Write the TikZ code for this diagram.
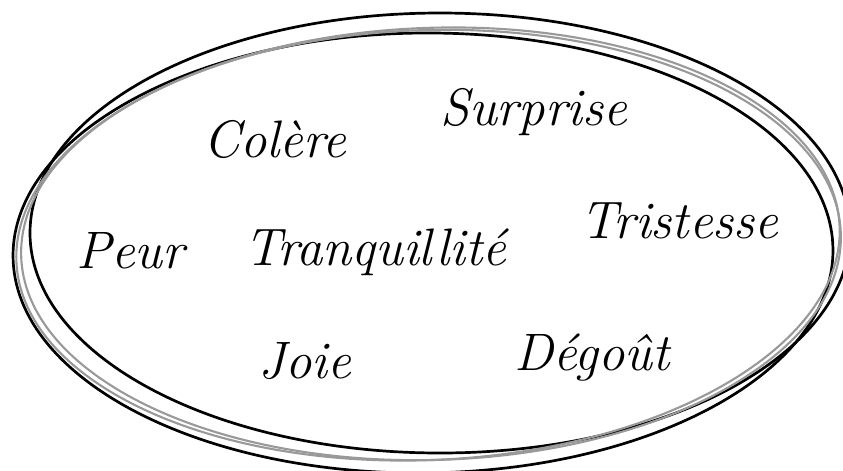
\documentclass[tikz,border=0pt]{standalone}
\usetikzlibrary{positioning}

\newcommand{\emo}[1]{\textit{#1}}

\begin{document}
\begin{tikzpicture}[x=0.03cm, y=-0.03cm,
  word/.style={anchor=base west, inner sep=0pt, font=\fontsize{45}{54}\selectfont},
  ink/.style={draw=black, line width=2.3pt},
  pencil/.style={draw=black!40, line width=1.8pt}]
  \useasboundingbox (0,0) rectangle (843,470);
  % the loose ring round the words
  \draw[ink] (440,233) ellipse [x radius=410, y radius=220];
  \draw[ink, rotate around={0.5:(423,253)}] (423,253) ellipse [x radius=410, y radius=220];
  \draw[pencil, rotate around={2.5:(428,244)}] (428,244) ellipse [x radius=412, y radius=216];
  \draw[pencil, rotate around={1.5:(431,245)}] (431,245) ellipse [x radius=410, y radius=215];
  % the words
  \node[word] (colere) at (203,157) {\emo{Colère}};
  \node[word] (surprise) at (440,125) {\emo{Surprise}};
  \node[word] (peur) at (76,268) {\emo{Peur}};
  \node[word] (tranq) at (244,265) {\emo{Tranquillité}};
  \node[word] (tristesse) at (580,238) {\emo{Tristesse}};
  \node[word] (joie) at (258,378) {\emo{Joie}};
  \node[word] (degout) at (514,370) {\emo{Dégoût}};
\end{tikzpicture}
\end{document}
